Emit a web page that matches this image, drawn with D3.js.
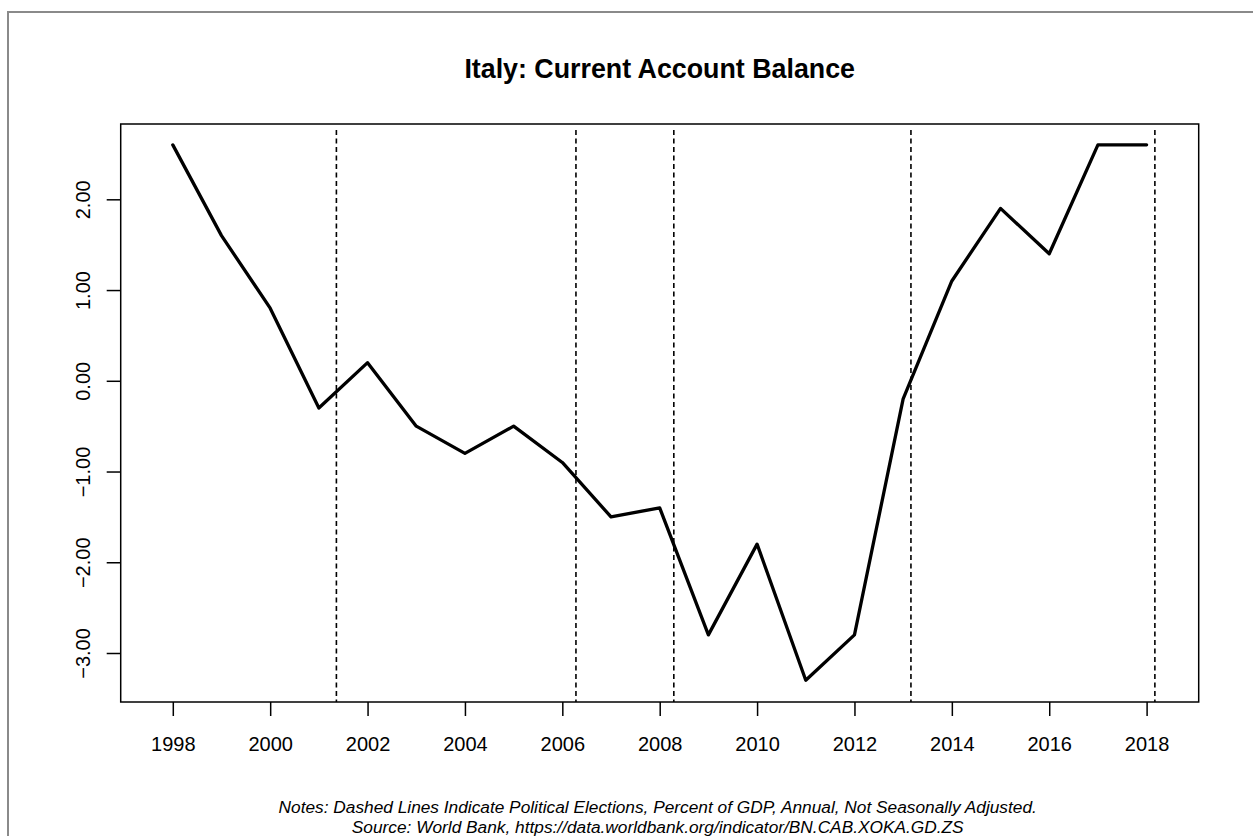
<!DOCTYPE html>
<html>
<head>
<meta charset="utf-8">
<script src="https://cdn.jsdelivr.net/npm/d3@7"></script>
<style>
  html, body { margin: 0; padding: 0; background: #fff; }
  svg { display: block; font-family: "Liberation Sans", Arial, sans-serif; }
</style>
</head>
<body>
<svg id="chart" width="1253" height="836"></svg>
<script>
// Current account balance, % of GDP
const years = [1998, 1999, 2000, 2001, 2002, 2003, 2004, 2005, 2006, 2007, 2008,
               2009, 2010, 2011, 2012, 2013, 2014, 2015, 2016, 2017, 2018];
const balance = [2.6, 1.6, 0.8, -0.3, 0.2, -0.5, -0.8, -0.5, -0.9, -1.5, -1.4,
                 -2.8, -1.8, -3.3, -2.8, -0.2, 1.1, 1.9, 1.4, 2.6, 2.6];
// General elections as decimal years
const elections = [2001.36, 2006.28, 2008.29, 2013.16, 2018.17];
const xTicks = [1998, 2000, 2002, 2004, 2006, 2008, 2010, 2012, 2014, 2016, 2018];
const yTicks = [-3, -2, -1, 0, 1, 2];

const svg = d3.select("#chart");
const plot = { left: 120.7, right: 1198.7, top: 124, bottom: 702 };

const x = d3.scaleLinear().domain([1996.93, 2019.07]).range([plot.left, plot.right]);
const y = d3.scaleLinear().domain([-3.54, 2.83]).range([plot.bottom, plot.top]);

// outer frame
svg.append("rect").attr("x", 8).attr("y", 12).attr("width", 1260).attr("height", 840)
  .attr("fill", "none").attr("stroke", "#8a8a8a").attr("stroke-width", 2);

// title
svg.append("text").attr("x", (plot.left + plot.right) / 2).attr("y", 78)
  .attr("text-anchor", "middle").attr("font-weight", "bold").attr("font-size", 26.8)
  .attr("fill", "#000").text("Italy: Current Account Balance");

// election markers
svg.append("g").selectAll("line").data(elections).join("line")
  .attr("x1", d => x(d)).attr("x2", d => x(d))
  .attr("y1", plot.top + 6).attr("y2", plot.bottom)
  .attr("stroke", "#000").attr("stroke-width", 1.6).attr("stroke-dasharray", "5,3.5");

// series line
const line = d3.line().x((d, i) => x(years[i])).y(d => y(d));
svg.append("path").datum(balance).attr("d", line)
  .attr("fill", "none").attr("stroke", "#000").attr("stroke-width", 3.3)
  .attr("stroke-linejoin", "round").attr("stroke-linecap", "round");

// plot box
svg.append("rect").attr("x", plot.left).attr("y", plot.top)
  .attr("width", plot.right - plot.left).attr("height", plot.bottom - plot.top)
  .attr("fill", "none").attr("stroke", "#000").attr("stroke-width", 1.5);

// x axis
const xAxis = d3.axisBottom(x).tickValues(xTicks).tickFormat(d3.format("d"))
  .tickSize(14).tickPadding(21);
const gx = svg.append("g").attr("transform", `translate(0,${plot.bottom})`).call(xAxis);
gx.select(".domain").remove();
gx.selectAll(".tick line").attr("stroke", "#000").attr("stroke-width", 1.5);
gx.selectAll(".tick text").attr("font-size", 20).attr("fill", "#000")
  .attr("font-family", "Liberation Sans, Arial, sans-serif");

// y axis
const fmt = d => d3.format(".2f")(d).replace("-", "\u2212");
const yAxis = d3.axisLeft(y).tickValues(yTicks).tickFormat(fmt).tickSize(14);
const gy = svg.append("g").attr("transform", `translate(${plot.left},0)`).call(yAxis);
gy.select(".domain").remove();
gy.selectAll(".tick line").attr("stroke", "#000").attr("stroke-width", 1.5);
gy.selectAll(".tick text")
  .attr("x", null).attr("dy", null)
  .attr("transform", `translate(${90 - plot.left},0) rotate(-90)`)
  .attr("text-anchor", "middle").attr("font-size", 20).attr("fill", "#000")
  .attr("font-family", "Liberation Sans, Arial, sans-serif");

// notes
const notes = [
  "Notes: Dashed Lines Indicate Political Elections, Percent of GDP, Annual, Not Seasonally Adjusted.",
  "Source: World Bank, https://data.worldbank.org/indicator/BN.CAB.XOKA.GD.ZS"
];
svg.append("g").selectAll("text").data(notes).join("text")
  .attr("x", (plot.left + plot.right) / 2 - 2).attr("y", (d, i) => 813 + i * 20)
  .attr("text-anchor", "middle").attr("font-style", "italic").attr("font-size", 17.3)
  .attr("fill", "#000").text(d => d);
</script>
</body>
</html>
